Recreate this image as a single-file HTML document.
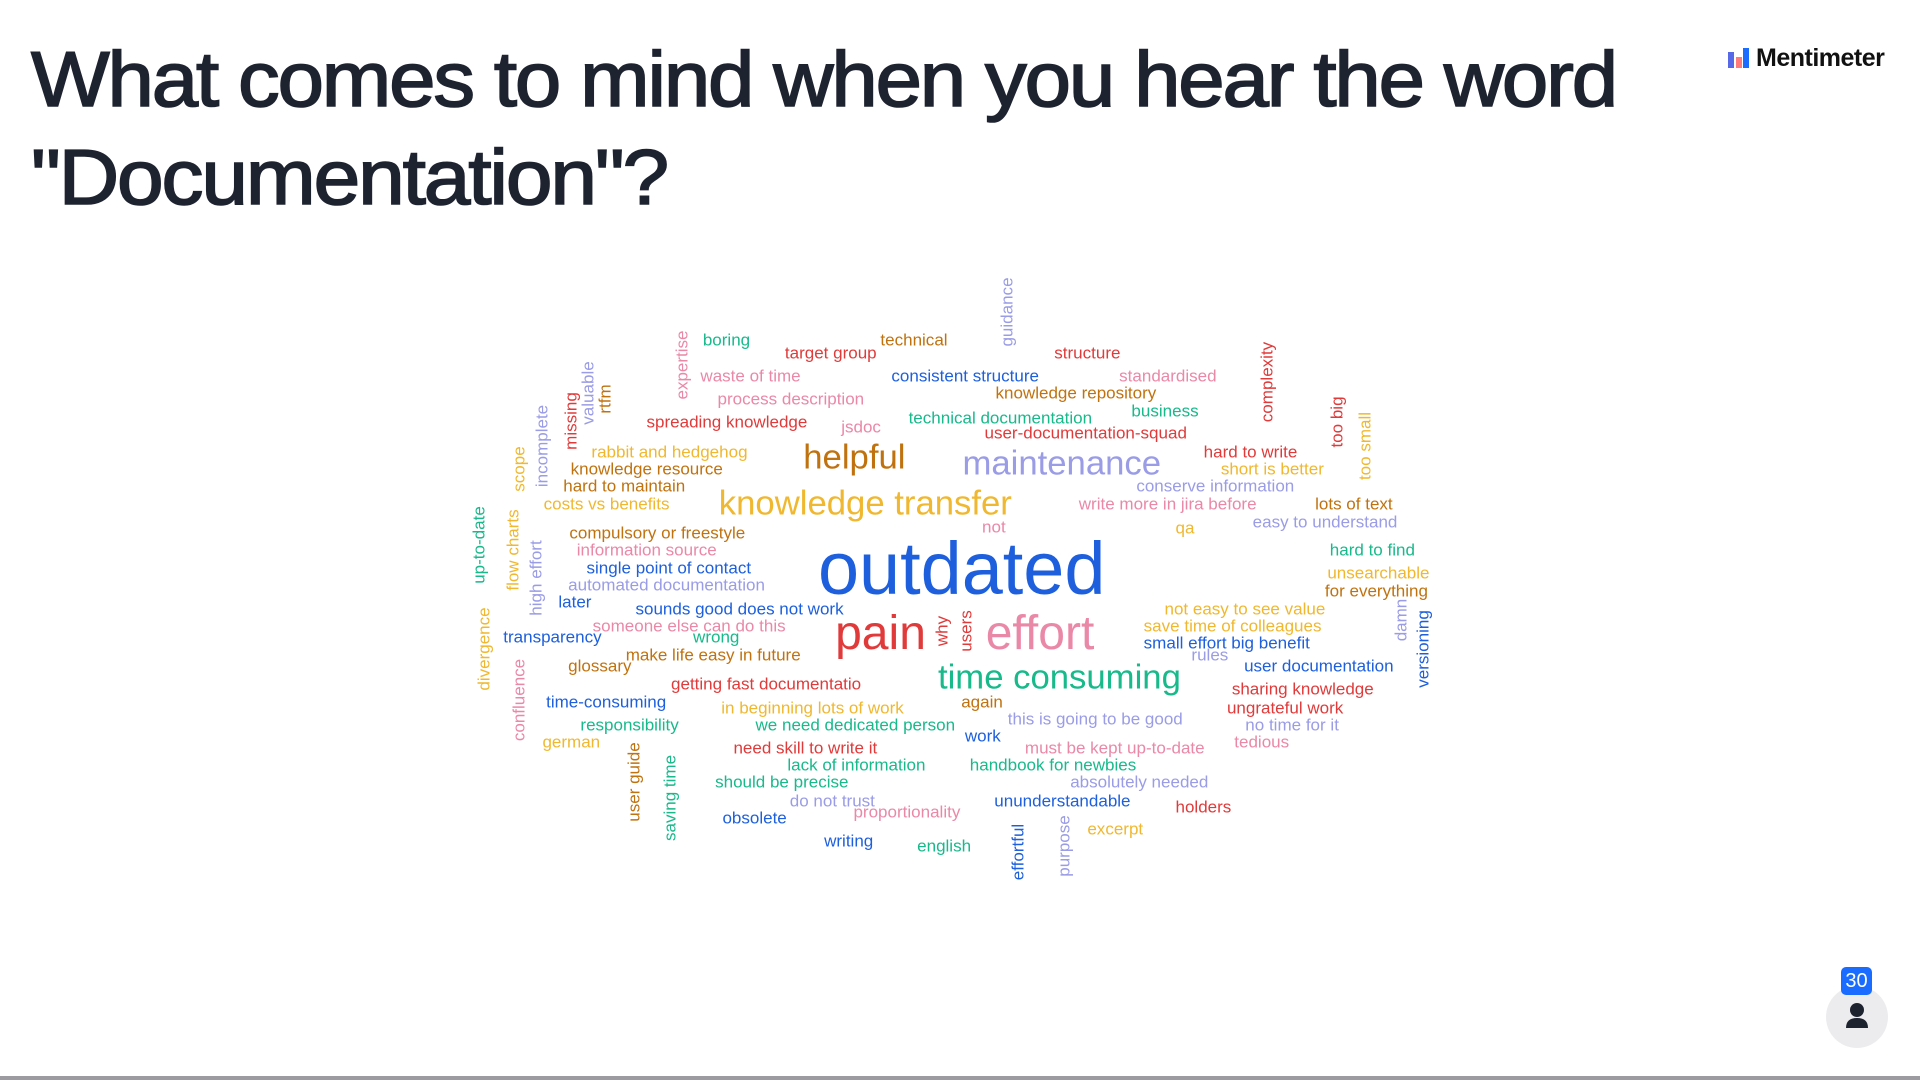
<!DOCTYPE html>
<html><head><meta charset="utf-8">
<style>
html,body{margin:0;padding:0;width:1920px;height:1080px;overflow:hidden;background:#fff;font-family:"Liberation Sans",sans-serif;}
#title{position:absolute;left:31px;top:30px;font-size:78px;line-height:98px;color:#1e2330;letter-spacing:-2px;font-weight:normal;-webkit-text-stroke:1.6px #1e2330;margin:0;}
#title span{display:block;white-space:nowrap;transform-origin:0 50%;}
#logo{position:absolute;left:1728px;top:44px;height:28px;display:flex;align-items:center;font-size:25px;font-weight:bold;color:#111;letter-spacing:-0.5px}
#cloud{position:absolute;left:0;top:0;width:1920px;height:1080px;}
.w{position:absolute;white-space:nowrap;line-height:1;}
#bar{position:absolute;left:0;top:1076px;width:1920px;height:4px;background:#9c9ca0}
#avatar{position:absolute;left:1826px;top:986px;width:62px;height:62px;border-radius:50%;background:#ececee}
#badge{position:absolute;left:1841px;top:967px;width:31px;height:28px;border-radius:5px;background:#196cff;color:#fff;font-size:20px;text-align:center;line-height:28px}
</style></head><body>
<h1 id="title"><span id="t1">What comes to mind when you hear the word</span><span id="t2">"Documentation"?</span></h1>
<div id="logo"><svg width="22" height="20" viewBox="0 0 22 20" style="margin-right:6px"><rect x="0" y="4" width="6" height="16" fill="#5769e7"/><rect x="8" y="9" width="6" height="11" fill="#ff7a7a"/><rect x="15" y="0" width="6" height="20" fill="#196cff"/></svg>Mentimeter</div>
<div id="cloud"></div>
<div id="avatar"><svg width="62" height="62" viewBox="0 0 62 62"><circle cx="31" cy="24" r="7" fill="#1e2330"/><path d="M20 42 Q20 32 31 32 Q42 32 42 42 Z" fill="#1e2330"/></svg></div>
<div id="badge">30</div>
<div id="bar"></div>
<script>
const S = 1920/1568;
const C = {B:"#1d5fdc",L:"#9a9ce6",G:"#18b98a",O:"#c0720f",Y:"#f0b830",R:"#e03a3a",P:"#ea88a8"};
const words = ["boring","target group","technical","structure","waste of time","consistent structure","standardised","process description","knowledge repository","business","spreading knowledge","jsdoc","technical documentation","user-documentation-squad","rabbit and hedgehog","helpful","maintenance","hard to write","knowledge resource","short is better","hard to maintain","conserve information","costs vs benefits","knowledge transfer","write more in jira before","lots of text","not","qa","easy to understand","compulsory or freestyle","information source","hard to find","outdated","single point of contact","unsearchable","automated documentation","for everything","later","sounds good does not work","not easy to see value","someone else can do this","save time of colleagues","pain","effort","transparency","wrong","small effort big benefit","make life easy in future","rules","glossary","user documentation","time consuming","getting fast documentatio","sharing knowledge","time-consuming","again","in beginning lots of work","ungrateful work","this is going to be good","responsibility","we need dedicated person","no time for it","work","german","tedious","need skill to write it","must be kept up-to-date","lack of information","handbook for newbies","should be precise","absolutely needed","do not trust","ununderstandable","proportionality","holders","obsolete","excerpt","writing","english",
"guidance","expertise","valuable","rtfm","missing","incomplete","scope","complexity","too big","too small","up-to-date","flow charts","high effort","divergence","confluence","why","users","damn","versioning","user guide","saving time","effortful","purpose"];
const xs = [574,641,719,861,572,728,914,586,813,924,528,687,742,804,483,656,786,983,466,997,460,928,444,587,881,1074,802,960,1023,465,471,1086,668,479,1084,464,1082,456,519,951,484,934,682,805,411,566,934,511,973,464,1016,766,548,1006,446,785,589,1002,823,474,617,1017,788,443,1008,599,837,643,792,584,874,645,812,697,960,590,888,673,749,
822,557,480,494,466,443,424,1035,1092,1115,391,419,438,395,424,769,789,1144,1162,518,547,831,869];
const ys = [278,288,278,288,307,307,307,326,321,336,345,349,341,354,369,374,379,369,383,383,397,397,412,412,412,412,430,431,426,435,449,449,465,464,468,478,483,492,497,497,511,511,518,518,520,520,525,535,535,544,544,554,559,563,573,573,578,578,587,592,592,592,601,606,606,611,611,625,625,639,639,654,654,663,659,668,677,687,691,
255,298,321,326,344,364,383,312,345,364,445,449,472,530,572,515,515,506,530,639,652,696,691];
const sizes = [13,13,13,13,13,13,13,13,13,13,13,13,13,13,13,26,26,13,13,13,13,13,13,26,13,13,13,13,13,13,13,13,52,13,13,13,13,13,13,13,13,13,36,36,13,13,13,13,13,13,13,26,13,13,13,13,13,13,13,13,13,13,13,13,13,13,13,13,13,13,13,13,13,13,13,13,13,13,13,
13,13,13,13,13,13,13,13,13,13,13,13,13,13,13,13,13,13,13,13,13,13,13];
const hColors = ["G","R","O","R","P","B","P","P","O","G",
"R","P","G","R","Y","O","L","R","O","Y",
"O","L","Y","Y","P","O","P","Y","L","O",
"P","G","B","B","Y","L","O","B","B","Y",
"P","Y","R","P","B","G","B","O","L","O",
"B","G","R","R","B","O","Y","R","L","G",
"G","L","B","Y","P","R","P","G","G","G",
"L","L","B","P","R","B","Y","B","G"];
const vColors = ["L","P","L","O","R","L","Y","R","R","Y","G","Y","L","Y","P","R","R","L","B","O","G","B","L"];
const colors = hColors.concat(vColors);
const rotated = words.map((w,i)=> i>=79 ? 1 : 0);
const cloud = document.getElementById('cloud');
words.forEach((w,i)=>{
  const el = document.createElement('div');
  el.className='w';
  el.textContent=w;
  
  
  const k = sizes[i]>45 ? 1.16 : (sizes[i]>20 ? 1.09 : 1.07);
  el.style.fontSize = (sizes[i]*S*k)+'px';
  el.style.color = C[colors[i]];
  el.style.left = (xs[i]*S)+'px';
  el.style.top = (ys[i]*S)+'px';
  el.style.transform = rotated[i] ? 'translate(-50%,-50%) rotate(-90deg)' : 'translateY(-50%)';
  cloud.appendChild(el);
});
const t1=document.getElementById('t1'),t2=document.getElementById('t2');
const rng=document.createRange();
function tw(el){rng.selectNodeContents(el);return rng.getBoundingClientRect().width;}
t1.style.transform='scaleX('+(1585/tw(t1))+')';
t2.style.transform='scaleX('+(636/tw(t2))+')';
</script>
</body></html>
